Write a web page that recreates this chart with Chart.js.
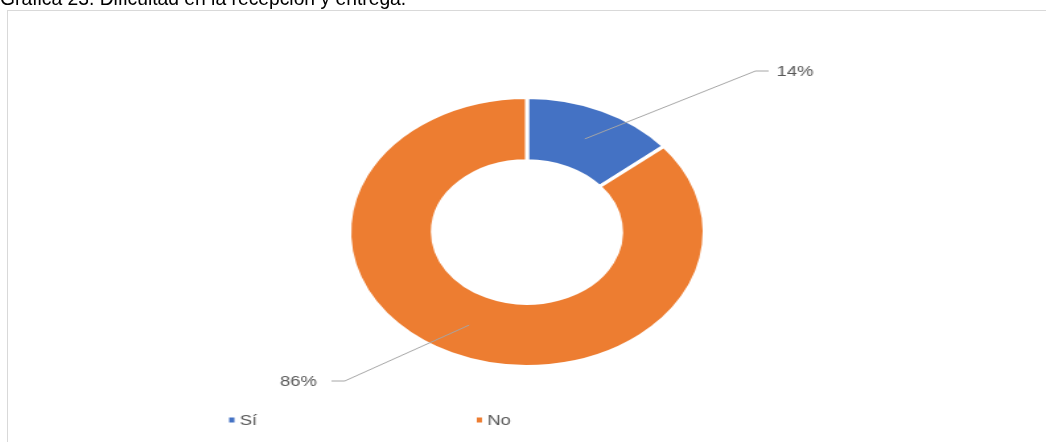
<!DOCTYPE html>
<html>
<head>
<meta charset="utf-8">
<script src="https://cdn.jsdelivr.net/npm/chart.js"></script>
<style>
    body { margin: 0; background: #fff; width: 1046px; height: 442px; overflow: hidden; position: relative; font-family: "Liberation Sans", Arial, sans-serif; }
    #title { position: absolute; left: 0; top: -12px; font-size: 19.3px; color: #000; white-space: nowrap; z-index: 2; }
    #frame { position: absolute; left: 7px; top: 10px; width: 1100px; height: 500px; border: 1px solid #d9d9d9; box-sizing: border-box; }
    /* the chart is drawn narrow and then widened, so the ring comes out oval */
    #wrap { position: absolute; left: 0; top: 0; width: 792px; height: 442px; transform: scaleX(1.3207); transform-origin: 0 0; }
</style>
</head>
<body>
<div id="frame"></div>
<div id="wrap"><canvas id="donut" width="792" height="442"></canvas></div>
<div id="title">Gráfica 23. Dificultad en la recepción y entrega.</div>
<script>
// answers and their share in percent
const categories = ['Sí', 'No'];
const percentages = [14, 86];
const sliceColors = ['#4472C4', '#ED7D31'];

// percent labels with leader lines from the middle of each slice
const calloutLabels = {
    id: 'calloutLabels',
    afterDatasetsDraw(chart, args, opts) {
        const ctx = chart.ctx;
        const values = chart.data.datasets[0].data;
        chart.getDatasetMeta(0).data.forEach((arc, i) => {
            const p = arc.getProps(['x', 'y', 'startAngle', 'endAngle', 'innerRadius', 'outerRadius'], true);
            const mid = (p.startAngle + p.endAngle) / 2;
            const r = (p.innerRadius + p.outerRadius) / 2;
            const sx = p.x + Math.cos(mid) * r;
            const sy = p.y + Math.sin(mid) * r;
            const elbow = opts.elbows[i];
            const ex = p.x + elbow.dx;
            const ey = p.y + elbow.dy;
            const side = elbow.dx > 0 ? 1 : -1;

            ctx.save();
            ctx.strokeStyle = '#a6a6a6';
            ctx.lineWidth = 1;
            ctx.beginPath();
            ctx.moveTo(sx, sy);
            ctx.lineTo(ex, ey);
            ctx.lineTo(ex + side * opts.tail, ey);
            ctx.stroke();

            ctx.fillStyle = '#595959';
            ctx.font = '14px "Liberation Sans", Arial, sans-serif';
            ctx.textBaseline = 'middle';
            ctx.textAlign = side > 0 ? 'left' : 'right';
            ctx.fillText(values[i] + '%', ex + side * (opts.tail + elbow.gap), ey + 1);
            ctx.restore();
        });
    }
};

// small square markers with the category name, in one row under the ring
const rowLegend = {
    id: 'rowLegend',
    afterDraw(chart, args, opts) {
        const ctx = chart.ctx;
        const colors = chart.data.datasets[0].backgroundColor;
        ctx.save();
        ctx.font = '14px "Liberation Sans", Arial, sans-serif';
        ctx.textBaseline = 'middle';
        ctx.textAlign = 'left';
        chart.data.labels.forEach((label, i) => {
            const x = opts.left + i * opts.step;
            ctx.fillStyle = colors[i];
            ctx.fillRect(x, opts.y - 2.5, 4, 5);
            ctx.fillStyle = '#595959';
            ctx.fillText(label, x + 8, opts.y + 1);
        });
        ctx.restore();
    }
};

new Chart(document.getElementById('donut'), {
    type: 'doughnut',
    data: {
        labels: categories,
        datasets: [{
            data: percentages,
            backgroundColor: sliceColors,
            borderColor: '#ffffff',
            borderWidth: 3
        }]
    },
    options: {
        responsive: false,
        animation: false,
        cutout: '53%',
        layout: { padding: { top: 96, bottom: 74, left: 6, right: 0 } },
        plugins: {
            legend: { display: false },
            tooltip: { enabled: false },
            calloutLabels: {
                elbows: [{ dx: 173, dy: -161, gap: 6 }, { dx: -138, dy: 149, gap: 11 }],
                tail: 10
            },
            rowLegend: { left: 173.5, step: 187.5, y: 420 }
        }
    },
    plugins: [calloutLabels, rowLegend]
});
</script>
</body>
</html>
